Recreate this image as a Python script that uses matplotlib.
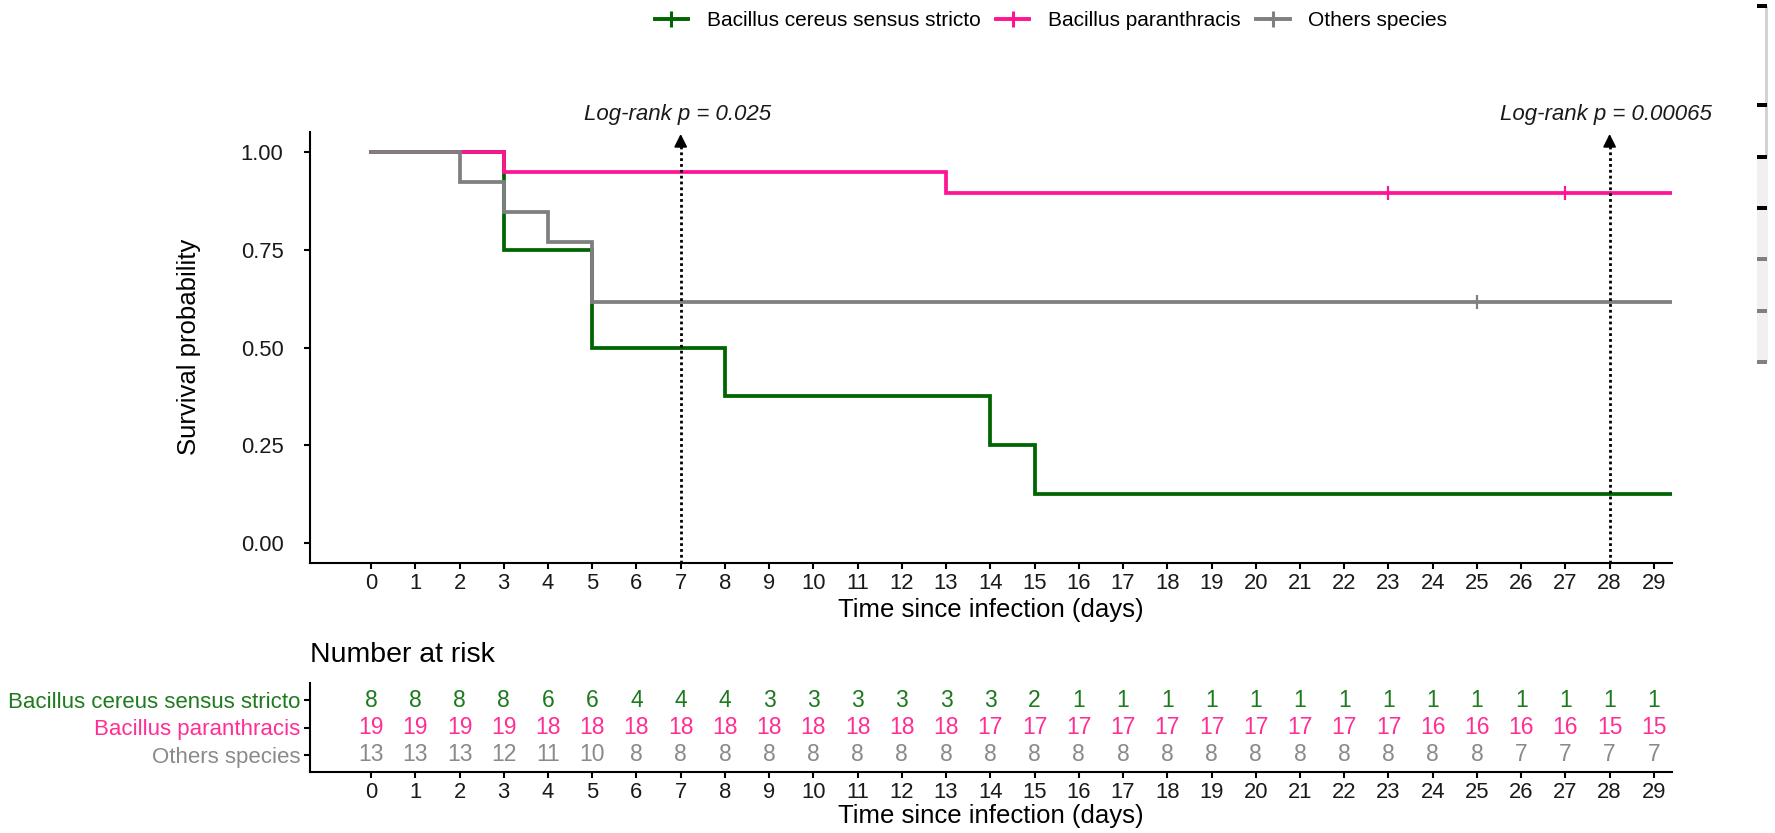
import matplotlib
matplotlib.use("Agg")
import matplotlib.pyplot as plt
from matplotlib.lines import Line2D
from matplotlib.patches import Rectangle

plt.rcParams['font.family'] = ['Liberation Sans', 'DejaVu Sans']

# ---------------- data ----------------
groups = ["Bacillus cereus sensus stricto", "Bacillus paranthracis", "Others species"]
line_colors = ["#006400", "#FF1493", "#7F7F7F"]
text_colors = ["#1E7A1E", "#FF2E95", "#8A8A8A"]

times_bc = [0, 3, 5, 8, 14, 15]
surv_bc = [1.0, 0.75, 0.50, 0.375, 0.25, 0.125]
times_bp = [0, 3, 13]
surv_bp = [1.0, 0.947, 0.895]
times_os = [0, 2, 3, 4, 5]
surv_os = [1.0, 0.923, 0.846, 0.769, 0.615]
censor_bc = []
censor_bp = [23, 27]
censor_os = [25]
follow_up_end = 29.4

days = list(range(0, 30))
risk_bc = [8, 8, 8, 8, 6, 6, 4, 4, 4, 3, 3, 3, 3, 3, 3, 2, 1, 1, 1, 1, 1, 1, 1, 1, 1, 1, 1, 1, 1, 1]
risk_bp = [19, 19, 19, 19, 18, 18, 18, 18, 18, 18, 18, 18, 18, 18, 17, 17, 17, 17, 17, 17, 17, 17, 17, 17, 16, 16, 16, 16, 15, 15]
risk_os = [13, 13, 13, 12, 11, 10, 8, 8, 8, 8, 8, 8, 8, 8, 8, 8, 8, 8, 8, 8, 8, 8, 8, 8, 8, 8, 7, 7, 7, 7]

pval_times = [7, 28]
pval_labels = ["Log-rank p = 0.025", "Log-rank p = 0.00065"]

curves = [(times_bc, surv_bc, censor_bc), (times_bp, surv_bp, censor_bp), (times_os, surv_os, censor_os)]
risks = [risk_bc, risk_bp, risk_os]

# ---------------- figure ----------------
W, H = 1775, 833
fig = plt.figure(figsize=(W / 100, H / 100), dpi=100)

def axrect(l, t, r, b):
    return [l / W, 1 - b / H, (r - l) / W, (b - t) / H]

xmin, xmax = -1.38, follow_up_end + 0.01
tick_fs = 15.8
lab_fs = 18.5

ax = fig.add_axes(axrect(310, 132, 1672, 563))
for (t, s, c), col in zip(curves, line_colors):
    tt = list(t) + [follow_up_end]
    ss = list(s) + [s[-1]]
    ax.step(tt, ss, where='post', color=col, lw=2.7, solid_joinstyle='miter')
    if c:
        cy = [s[[i for i, tv in enumerate(t) if tv <= ci][-1]] for ci in c]
        ax.plot(c, cy, ls='none', marker='|', ms=9.5, mew=1.6, color=col)

ax.set_xlim(xmin, xmax)
ax.set_ylim(-0.05, 1.05)
ax.set_xticks(days)
ax.set_yticks([0, 0.25, 0.5, 0.75, 1.0])
ax.set_yticklabels(["0.00", "0.25", "0.50", "0.75", "1.00"])
for sp in ['top', 'right']:
    ax.spines[sp].set_visible(False)
for sp in ['left', 'bottom']:
    ax.spines[sp].set_linewidth(1.5)
ax.tick_params(axis='both', direction='out', length=4, width=1.5, labelsize=tick_fs, colors='black')
ax.tick_params(axis='x', pad=3, labelcolor='#1a1a1a')
ax.tick_params(axis='y', pad=15, labelcolor='#1a1a1a')

for xp, lab in zip(pval_times, pval_labels):
    ax.plot([xp, xp], [-0.05, 1.025], color='black', lw=2.0, ls=(0, (1, 1.1)),
            solid_capstyle='butt', clip_on=False)
    ax.annotate("", xy=(xp, 1.045), xytext=(xp, 1.022), annotation_clip=False,
                arrowprops=dict(arrowstyle='-|>,head_length=0.6,head_width=0.3', lw=1.3,
                                color='black', mutation_scale=13, shrinkA=0, shrinkB=0))
    ax.text(xp - 0.08, 1.095, lab, ha='center', va='center', fontsize=16, style='italic',
            color='#1a1a1a', clip_on=False)

fig.text(991 / W, 1 - 610 / H, "Time since infection (days)", ha='center', va='center', fontsize=lab_fs)
fig.text(189 / W, 1 - 347 / H, "Survival probability", ha='center', va='center', fontsize=lab_fs, rotation=90)

# ---------------- legend ----------------
handles = [Line2D([0], [0], color=c, lw=2.8, marker='|', ms=11, mew=2.2) for c in line_colors]
fig.legend(handles, groups, loc='center', bbox_to_anchor=(1051 / W, 1 - 21 / H), ncol=3,
           frameon=False, fontsize=15.0, handlelength=1.6, handletextpad=0.9,
           columnspacing=0.75, borderpad=0, borderaxespad=0)

# ---------------- risk table ----------------
rax = fig.add_axes(axrect(310, 683, 1672, 772))
rows_y = [3, 2, 1]
for risk, col, yv in zip(risks, text_colors, rows_y):
    for d, n in zip(days, risk):
        rax.text(d, yv, str(n), ha='center', va='center', fontsize=16.5, color=col)
rax.set_xlim(xmin, xmax)
rax.set_ylim(0.38, 3.62)
rax.set_xticks(days)
rax.set_yticks(rows_y)
rax.set_yticklabels(groups)
for lbl, col in zip(rax.get_yticklabels(), text_colors):
    lbl.set_color(col)
for sp in ['top', 'right']:
    rax.spines[sp].set_visible(False)
for sp in ['left', 'bottom']:
    rax.spines[sp].set_linewidth(1.5)
rax.tick_params(axis='both', direction='out', length=4, width=1.5, labelsize=tick_fs)
rax.tick_params(axis='x', pad=3, labelcolor='#1a1a1a')
rax.tick_params(axis='y', pad=3, labelsize=16)
fig.text(310 / W, 1 - 655 / H, "Number at risk", ha='left', va='center', fontsize=20.5)
fig.text(991 / W, 1 - 816 / H, "Time since infection (days)", ha='center', va='center', fontsize=lab_fs)

# ---------------- screenshot edge artefact ----------------
def frect(l, t, r, b, col):
    fig.add_artist(Rectangle((l / W, 1 - b / H), (r - l) / W, (b - t) / H,
                             transform=fig.transFigure, color=col, lw=0))

frect(1765, 6, 1768, 157, "#d3d3d3")
frect(1757, 157, 1768, 362, "#f0f0f0")
for yv, col in [(6, "#000000"), (105, "#000000"), (157, "#000000"), (208, "#000000"),
                (259, "#808080"), (311, "#808080"), (362, "#808080")]:
    frect(1757, yv - 2, 1767, yv + 2, col)

fig.savefig("out.png", dpi=100)
